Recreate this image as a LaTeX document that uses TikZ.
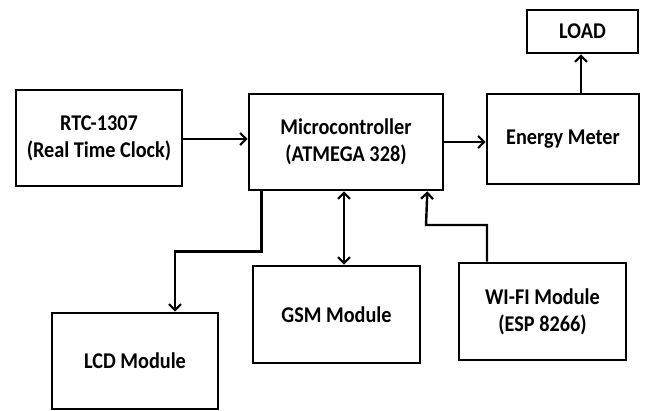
\documentclass[tikz,border=0pt]{standalone}
\usepackage{fontspec}
\setmainfont{Carlito}
\newfontfamily\boxfont[FakeStretch=0.9]{Carlito}
\usetikzlibrary{arrows.meta,calc}
\begin{document}
\begin{tikzpicture}[x=1pt,y=-1pt,
  box/.style={draw,line width=2.7pt,rectangle,inner sep=0pt,align=center,
    font=\boxfont\bfseries\fontsize{22.5}{27}\selectfont},
  conn/.style={line width=2.4pt,-{Straight Barb[length=6pt,width=12pt,line width=2.2pt]}},
  dconn/.style={line width=2.4pt,{Straight Barb[length=6pt,width=12pt,line width=2.2pt]}-{Straight Barb[length=6pt,width=12pt,line width=2.2pt]}}]
\useasboundingbox (0,0) rectangle (645,411);
\node[box,minimum width=111pt,minimum height=43pt] (load) at (582.5,31.5) {LOAD};
\node[box,minimum width=166pt,minimum height=96pt] (rtc) at (99,138) {RTC-1307\\(Real Time Clock)};
\node[box,minimum width=194pt,minimum height=96pt] (micro) at (346,142) {Microcontroller\\(ATMEGA 328)};
\node[box,minimum width=152pt,minimum height=90pt] (energy) at (563,139) {Energy Meter};
\node[box,minimum width=166pt,minimum height=96pt] (lcd) at (135,361) {LCD Module};
\node[box,minimum width=167pt,minimum height=97pt] (gsm) at (336.5,314.5) {GSM Module};
\node[box,minimum width=167pt,minimum height=97pt] (wifi) at (542.5,311.5) {WI-FI Module\\(ESP 8266)};
\draw[conn] ([yshift=-1pt]rtc.east) -- ([yshift=-1pt]rtc.east -| micro.west);
\draw[conn] (micro.east) -- (micro.east -| energy.west);
\draw[conn] ([xshift=-1.5pt]load.south |- energy.north) -- ([xshift=-1.5pt]load.south);
\draw[conn] ([xshift=14pt]micro.south west) -- ++(0,60) -| ([xshift=40pt]lcd.north);
\draw[dconn] ([xshift=7.5pt]gsm.north) -- ([xshift=7.5pt]gsm.north |- micro.south);
\draw[conn] ([xshift=-55.5pt]wifi.north) |- (426,225) -- ([xshift=-17pt]micro.south east);
\end{tikzpicture}
\end{document}
